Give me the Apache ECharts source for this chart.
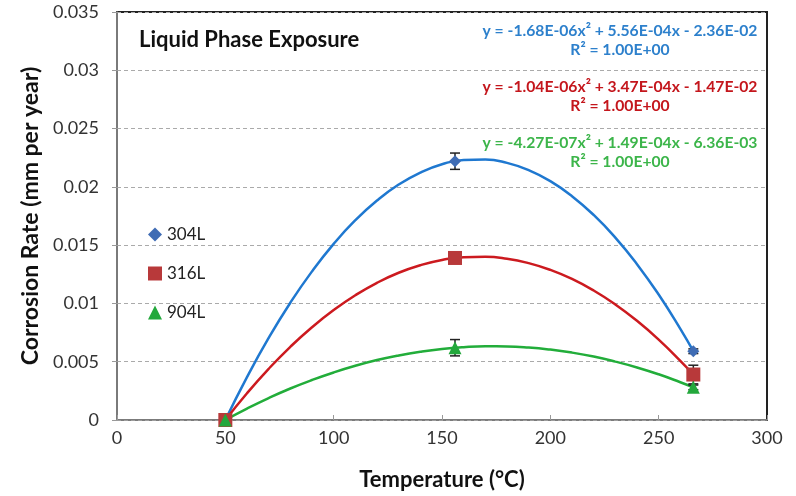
<!DOCTYPE html>
<html lang="en">
<head>
    <meta charset="UTF-8">
    <title>Liquid Phase Exposure</title>
    <script src="https://cdn.jsdelivr.net/npm/echarts@6/dist/echarts.min.js"></script>
    <style type="text/css">
        html, body { margin: 0; padding: 0; background: #fff; }
        #chart { width: 796px; height: 496px; }
    </style>
</head>
<body>
<div id="chart"></div>
<script type="text/javascript">
    // measured points (temperature, corrosion rate)
    var temps = [50, 156, 266];
    var rate304 = [0, 0.0222, 0.0059];
    var rate316 = [0, 0.0139, 0.0039];
    var rate904 = [0, 0.0062, 0.0028];
    // error bar half widths
    var err304 = [0, 0.0007, 0.0002];
    var err316 = [0, 0.0002, 0.0008];
    var err904 = [0, 0.0007, 0.0002];

    // trend curves
    var curveX = [50, 60, 70, 80, 90, 100, 110, 120, 130, 140, 150, 160, 170, 180, 190, 200, 210, 220, 230, 240, 250, 260, 266];
    var curve304 = [0, 0.00368, 0.00704, 0.01006, 0.01275, 0.01511, 0.01714, 0.01883, 0.02020, 0.02123, 0.02194, 0.02231, 0.02235, 0.02206, 0.02144, 0.02049, 0.01920, 0.01759, 0.01565, 0.01337, 0.01076, 0.00782, 0.0059];
    var curve316 = [0, 0.00230, 0.00439, 0.00628, 0.00796, 0.00943, 0.01070, 0.01177, 0.01263, 0.01328, 0.01373, 0.01397, 0.01401, 0.01384, 0.01346, 0.01288, 0.01210, 0.01111, 0.00991, 0.00851, 0.00690, 0.00508, 0.0039];
    var curve904 = [0, 0.00098, 0.00188, 0.00270, 0.00343, 0.00408, 0.00465, 0.00514, 0.00554, 0.00586, 0.00610, 0.00625, 0.00632, 0.00631, 0.00622, 0.00604, 0.00578, 0.00544, 0.00501, 0.00451, 0.00392, 0.00324, 0.0028];

    var seriesNames = ['304L', '316L', '904L'];
    var equations = [
        ['y = -1.68E-06x² + 5.56E-04x - 2.36E-02', 'R² = 1.00E+00'],
        ['y = -1.04E-06x² + 3.47E-04x - 1.47E-02', 'R² = 1.00E+00'],
        ['y = -4.27E-07x² + 1.49E-04x - 6.36E-03', 'R² = 1.00E+00']
    ];

    var font = 'Lato, "Open Sans", sans-serif';
    var markerColors = ['#3f6cb4', '#b8393a', '#23a83c'];
    var lineColors = ['#1f78d0', '#cc1a1f', '#22ad3a'];
    var eqColors = ['#2d80cc', '#c4161c', '#3cb54a'];

    var pairs = function (xs, ys) {
        return xs.map(function (x, i) { return [x, ys[i]]; });
    };
    var errData = function (ys, es) {
        return temps.map(function (x, i) { return [x, ys[i], es[i]]; });
    };

    // vertical error bars with caps
    var errorBar = function (data) {
        return {
            type: 'custom',
            silent: true,
            z: 4,
            renderItem: function (params, api) {
                var x = api.value(0), y = api.value(1), e = api.value(2);
                if (!e) { return null; }
                var top = api.coord([x, y + e]);
                var bot = api.coord([x, y - e]);
                var style = { stroke: '#222', lineWidth: 1.5 };
                return {
                    type: 'group',
                    children: [
                        { type: 'line', shape: { x1: top[0], y1: top[1], x2: bot[0], y2: bot[1] }, style: style },
                        { type: 'line', shape: { x1: top[0] - 5, y1: top[1], x2: top[0] + 5, y2: top[1] }, style: style },
                        { type: 'line', shape: { x1: bot[0] - 5, y1: bot[1], x2: bot[0] + 5, y2: bot[1] }, style: style }
                    ]
                };
            },
            data: data
        };
    };

    var curve = function (ys, color) {
        return {
            type: 'line',
            data: pairs(curveX, ys),
            smooth: true,
            showSymbol: false,
            silent: true,
            z: 2,
            lineStyle: { color: color, width: 2.5 }
        };
    };

    var marker = function (name, ys, symbol, size, color) {
        return {
            name: name,
            type: 'scatter',
            data: pairs(temps, ys),
            symbol: symbol,
            symbolSize: size,
            z: 5,
            itemStyle: { color: color, opacity: 1 }
        };
    };

    // trendline equations, top right
    var eqGraphics = [];
    equations.forEach(function (eq, i) {
        eqGraphics.push({
            type: 'text', x: 620, y: 31 + i * 56,
            style: { text: eq[0], font: 'bold 15.7px ' + font, fill: eqColors[i], textAlign: 'center', textVerticalAlign: 'middle' }
        });
        eqGraphics.push({
            type: 'text', x: 620, y: 50 + i * 56,
            style: { text: eq[1], font: 'bold 15.7px ' + font, fill: eqColors[i], textAlign: 'center', textVerticalAlign: 'middle' }
        });
    });

    var chart = echarts.init(document.getElementById('chart'));
    chart.setOption({
        animation: false,
        textStyle: { fontFamily: font },
        title: {
            text: 'Liquid Phase Exposure',
            left: 134, top: 24,
            textStyle: { fontFamily: font, fontSize: 22, fontWeight: 'bold', color: '#111' }
        },
        legend: {
            data: seriesNames,
            orient: 'vertical',
            left: 143, top: 221,
            itemGap: 22,
            itemWidth: 14, itemHeight: 14,
            textStyle: { fontFamily: font, fontSize: 17, color: '#222' }
        },
        grid: {
            left: 117, right: 29, top: 12, bottom: 76,
            show: true, borderColor: '#222', borderWidth: 2, backgroundColor: '#fff'
        },
        xAxis: {
            type: 'value', min: 0, max: 300, interval: 50,
            name: 'Temperature (°C)', nameLocation: 'middle', nameGap: 49,
            nameTextStyle: { fontFamily: font, fontSize: 22, fontWeight: 'bold', color: '#111' },
            axisLine: { lineStyle: { color: '#999', width: 1.5 } },
            axisTick: { inside: true, length: 5, lineStyle: { color: '#999' } },
            axisLabel: { fontSize: 18, color: '#333', margin: 9 },
            splitLine: { show: false }
        },
        yAxis: {
            type: 'value', min: 0, max: 0.035, interval: 0.005,
            name: 'Corrosion Rate (mm per year)', nameLocation: 'middle', nameGap: 74,
            nameTextStyle: { fontFamily: font, fontSize: 23, fontWeight: 'bold', color: '#111' },
            axisLine: { show: true, lineStyle: { color: '#999', width: 1.5 } },
            axisTick: { show: true, length: 5, lineStyle: { color: '#999' } },
            axisLabel: { fontSize: 18, color: '#333', margin: 18 },
            splitLine: { show: true, lineStyle: { color: '#aaa', type: [4, 3], width: 1 } }
        },
        graphic: eqGraphics,
        series: [
            curve(curve304, lineColors[0]),
            curve(curve316, lineColors[1]),
            curve(curve904, lineColors[2]),
            errorBar(errData(rate304, err304)),
            errorBar(errData(rate316, err316)),
            errorBar(errData(rate904, err904)),
            marker('304L', rate304, 'diamond', 12, markerColors[0]),
            marker('316L', rate316, 'rect', 14, markerColors[1]),
            marker('904L', rate904, 'triangle', 13, markerColors[2])
        ]
    });
</script>
</body>
</html>
